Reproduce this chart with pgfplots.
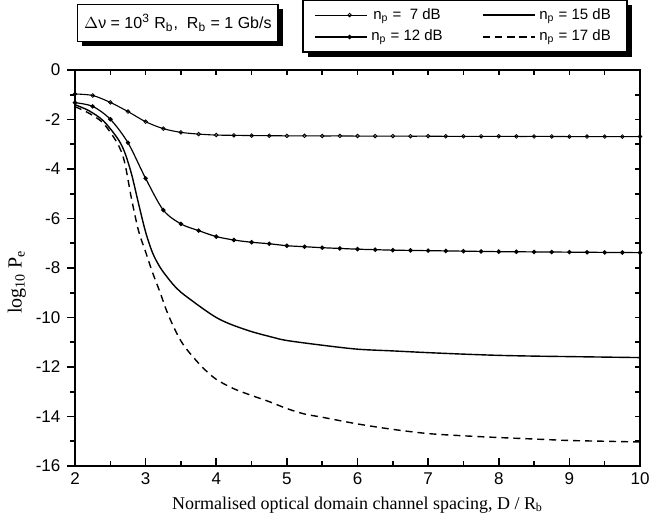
\documentclass[border=0pt]{standalone}
\usepackage{fontspec}
\setmainfont{Liberation Sans}
\newfontfamily\serif{Liberation Serif}
\usepackage{pgfplots}
\usepackage{pgfplotstable}
\pgfplotsset{compat=1.18}
\usetikzlibrary{shadows,calc}
\makeatletter
\tikzset{no shadow/.code={\let\tikz@preactions=\pgfutil@empty}}
\makeatother

% np = 7 dB
\pgfplotstableread{
x y
2.00 -0.97
2.25 -1.03
2.50 -1.31
2.75 -1.68
3.00 -2.09
3.25 -2.37
3.50 -2.52
3.75 -2.59
4.00 -2.63
4.25 -2.64
4.50 -2.65
4.75 -2.655
5.00 -2.66
5.25 -2.66
5.50 -2.665
5.75 -2.665
6.00 -2.67
6.25 -2.67
6.50 -2.67
6.75 -2.675
7.00 -2.675
7.25 -2.68
7.50 -2.68
7.75 -2.68
8.00 -2.68
8.25 -2.685
8.50 -2.685
8.75 -2.685
9.00 -2.69
9.25 -2.69
9.50 -2.69
9.75 -2.69
10.00 -2.69
}\seven

% np = 12 dB
\pgfplotstableread{
x y
2.00 -1.32
2.25 -1.47
2.50 -1.99
2.75 -2.94
3.00 -4.38
3.25 -5.66
3.50 -6.22
3.75 -6.49
4.00 -6.73
4.25 -6.87
4.50 -6.96
4.75 -7.02
5.00 -7.10
5.25 -7.14
5.50 -7.18
5.75 -7.21
6.00 -7.24
6.25 -7.26
6.50 -7.28
6.75 -7.29
7.00 -7.30
7.25 -7.31
7.50 -7.32
7.75 -7.33
8.00 -7.34
8.25 -7.345
8.50 -7.35
8.75 -7.355
9.00 -7.36
9.25 -7.365
9.50 -7.37
9.75 -7.375
10.00 -7.38
}\twelve

% np = 15 dB
\pgfplotstableread{
x y
2.0 -1.40
2.2 -1.65
2.4 -2.05
2.6 -2.75
2.7 -3.30
2.8 -4.20
2.9 -5.40
3.0 -6.55
3.1 -7.40
3.2 -7.95
3.3 -8.35
3.4 -8.70
3.5 -8.98
3.6 -9.20
3.8 -9.62
4.0 -10.00
4.2 -10.27
4.5 -10.57
4.8 -10.80
5.0 -10.93
5.5 -11.12
6.0 -11.28
6.5 -11.35
7.0 -11.42
7.5 -11.48
8.0 -11.53
8.5 -11.56
9.0 -11.58
9.5 -11.60
10.0 -11.62
}\fifteen

% np = 17 dB
\pgfplotstableread{
x y
2.0 -1.48
2.2 -1.75
2.4 -2.15
2.6 -2.96
2.7 -3.70
2.8 -5.20
2.9 -6.50
3.0 -7.35
3.1 -8.20
3.2 -8.95
3.3 -9.75
3.4 -10.40
3.5 -10.95
3.6 -11.35
3.8 -12.00
4.0 -12.50
4.25 -12.88
4.5 -13.15
4.75 -13.40
5.0 -13.68
5.25 -13.90
5.5 -14.03
6.0 -14.30
6.5 -14.52
7.0 -14.69
7.5 -14.78
8.0 -14.85
8.5 -14.91
9.0 -14.97
9.5 -15.00
10.0 -15.03
}\seventeen

\begin{document}
\begin{tikzpicture}
\pgfplotsset{
  every axis/.append style={
    scale only axis, width=282.5pt, height=198pt,
    xmin=2, xmax=10, ymin=-16, ymax=0,
    axis line style={line width=0.9pt},
    every tick/.style={black, line width=0.8pt},
  },
}
% frame ticks on top and right, pointing in
\begin{axis}[
  xtick={2,2.5,...,10}, ytick={-16,-15,...,0},
  xticklabels={}, yticklabels={},
  xtick pos=right, ytick pos=right,
  tick align=inside, major tick length=2.6pt,
]
\end{axis}
\begin{axis}[
  name=ax, clip=false,
  xtick={2,...,10}, ytick={-16,-14,...,0},
  minor x tick num=1, minor y tick num=1,
  xtick pos=left, ytick pos=left,
  xtick align=inside, ytick align=outside,
  major tick length=3.8pt, minor tick length=2.3pt,
  tick label style={font=\fontsize{8.5}{10}\selectfont},
  /pgf/number format/assume math mode=true,
  xlabel={\serif Normalised optical domain channel spacing, D / R\textsubscript{b}},
  ylabel={\serif log\textsubscript{10} P\textsubscript{e}},
  xlabel style={font=\fontsize{9}{11}\selectfont, at={(axis description cs:0.5,-0.098)}, anchor=center},
  ylabel style={font=\fontsize{10}{12}\selectfont, at={(axis description cs:-0.103,0.465)}, anchor=center},
  legend columns=2,
  legend style={at={(axis description cs:0.69,1.111)}, anchor=center,
    draw=black, line width=0.8pt, fill=white,
    drop shadow={shadow xshift=2.5pt, shadow yshift=-2.5pt, fill=black, opacity=1},
    font=\fontsize{7.5}{8.5}\selectfont, inner xsep=6pt, inner ysep=2pt,
    /tikz/every odd column/.append style={column sep=0pt},
    /tikz/every even column/.append style={column sep=18pt}},
  legend image code/.code={\draw[no shadow, #1, mark repeat=2, mark phase=2] plot coordinates {(0cm,0cm) (0.6cm,0cm) (0.9cm,0cm)};},
]
\addplot[black, line width=0.55pt, smooth, mark=o, mark size=0.9pt, mark options={solid, fill=white, line width=0.4pt}] table {\seven};
\addlegendentry{n\textsubscript{p} = \ 7 dB}
\addplot[black, line width=0.7pt, smooth] table {\fifteen};
\addlegendentry{n\textsubscript{p} = 15 dB}
\addplot[black, line width=0.6pt, smooth, mark=*, mark size=0.8pt, mark options={solid}] table {\twelve};
\addlegendentry{n\textsubscript{p} = 12 dB}
\addplot[black, line width=0.7pt, smooth, dash pattern=on 3.5pt off 2.5pt] table {\seventeen};
\addlegendentry{n\textsubscript{p} = 17 dB}
\node[draw, line width=0.8pt, fill=white,
  drop shadow={shadow xshift=2.5pt, shadow yshift=-2.5pt, fill=black, opacity=1},
  minimum width=96.5pt, minimum height=18.5pt, font=\fontsize{8}{10}\selectfont]
  at (rel axis cs:0.182,1.119)
  {$\Delta$ν = 10\textsuperscript{3} R\textsubscript{b},\ \ R\textsubscript{b} = 1 Gb/s};
\end{axis}
\pgfresetboundingbox
\path[use as bounding box] ($(ax.south west)+(-37.5pt,-30.5pt)$) rectangle ($(ax.north east)+(4.5pt,35pt)$);
\end{tikzpicture}
\end{document}
